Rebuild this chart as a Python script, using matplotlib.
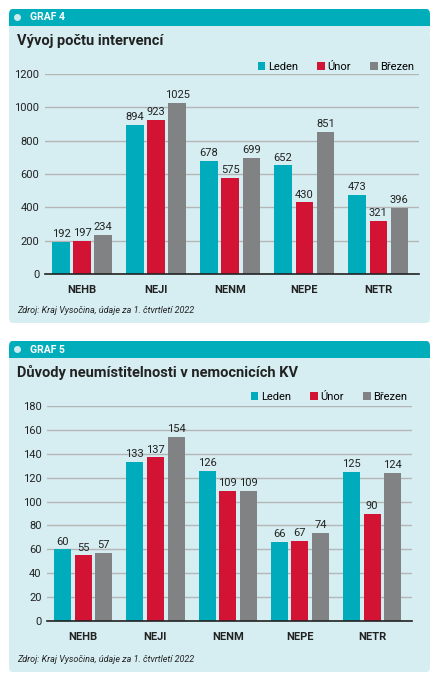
import matplotlib.pyplot as plt
from matplotlib.patches import FancyBboxPatch, Rectangle, Ellipse
import numpy as np

plt.rcParams['font.family'] = ['Roboto', 'DejaVu Sans']

categories = ["NEHB", "NEJI", "NENM", "NEPE", "NETR"]
months = ["Leden", "Únor", "Březen"]

# GRAF 4
interv_leden = [192, 894, 678, 652, 473]
interv_unor = [197, 923, 575, 430, 321]
interv_brezen = [234, 1025, 699, 851, 396]

# GRAF 5
neum_leden = [60, 133, 126, 66, 125]
neum_unor = [55, 137, 109, 67, 90]
neum_brezen = [57, 154, 109, 74, 124]

TEAL = "#00abbb"
RED = "#d21334"
GREY = "#818284"
BG = "#d6eef2"
HEAD = "#00adbb"
colors = [TEAL, RED, GREY]

W, H = 443, 689
fig = plt.figure(figsize=(W / 100, H / 100), dpi=100)
fig.patch.set_facecolor("white")


def fx(px):
    return px / W


def fy(py):
    return 1 - py / H


def panel(top, head_bottom, bottom, label, title):
    # body
    body = FancyBboxPatch((fx(9), fy(bottom)), fx(430) - fx(9), fy(head_bottom + 4) - fy(bottom),
                          boxstyle="round,pad=0,rounding_size=0.008", transform=fig.transFigure,
                          facecolor=BG, edgecolor="none", zorder=-3)
    fig.patches.append(body)
    fig.patches.append(Rectangle((fx(9), fy(head_bottom + 6)), fx(430) - fx(9), fy(head_bottom) - fy(head_bottom + 6),
                                 transform=fig.transFigure, facecolor=BG, edgecolor="none", zorder=-3))
    head = FancyBboxPatch((fx(9), fy(head_bottom)), fx(430) - fx(9), fy(top) - fy(head_bottom),
                          boxstyle="round,pad=0,rounding_size=0.008", transform=fig.transFigure,
                          facecolor=HEAD, edgecolor="none", zorder=-2)
    fig.patches.append(head)
    fig.patches.append(Rectangle((fx(9), fy(head_bottom)), fx(430) - fx(9), fy(head_bottom - 5) - fy(head_bottom),
                                 transform=fig.transFigure, facecolor=HEAD, edgecolor="none", zorder=-2))
    cy = (top + head_bottom) / 2
    fig.patches.append(Ellipse((fx(17.5), fy(cy)), 7 / W, 7 / H, transform=fig.transFigure,
                               facecolor="#cfeaee", edgecolor="none", zorder=-1))
    fig.text(fx(30), fy(cy), label, color="white", fontsize=7.5, fontweight="bold",
             va="center", ha="left")
    fig.text(fx(17), fy(head_bottom + 15), title, color="#222222", fontsize=10.5,
             fontweight="bold", va="center", ha="left")


def bars(ax_rect, series, ymax, ystep, legend_x, legend_y, source_y):
    left, right, ytop, ybot = ax_rect
    ax = fig.add_axes([fx(left), fy(ybot), fx(right) - fx(left), fy(ytop) - fy(ybot)])
    ax.set_zorder(5)
    ax.set_facecolor("none")
    x = np.arange(len(categories))
    bw = 0.235
    off = 0.285
    for i, (vals, c, m) in enumerate(zip(series, colors, months)):
        b = ax.bar(x + (i - 1) * off, vals, width=bw, color=c, label=m, zorder=3)
        ax.bar_label(b, padding=2, fontsize=8, color="#222222")
    ax.set_xlim(-0.5, 4.55)
    ax.set_ylim(0, ymax)
    ax.set_yticks(np.arange(0, ymax + 1, ystep))
    ax.yaxis.grid(True, color="#b5b5b5", linewidth=1, zorder=0)
    ax.set_axisbelow(True)
    for s in ["top", "right", "left"]:
        ax.spines[s].set_visible(False)
    ax.spines["bottom"].set_color("#222222")
    ax.spines["bottom"].set_linewidth(1.2)
    ax.spines["bottom"].set_zorder(4)
    ax.set_xticks(x)
    ax.set_xticklabels(categories, fontweight="bold", fontsize=8, color="#222222")
    ax.tick_params(axis="x", length=0, pad=8)
    ax.tick_params(axis="y", length=0, pad=4, labelsize=8, labelcolor="#222222")
    ax.legend(loc="center right", bbox_to_anchor=(fx(legend_x), fy(legend_y)),
              bbox_transform=fig.transFigure, ncol=3, frameon=False,
              fontsize=8, handlelength=0.7, handleheight=0.7, handletextpad=0.25,
              columnspacing=1.7, borderaxespad=0)
    fig.text(fx(17), fy(source_y), "Zdroj: Kraj Vysočina, údaje za 1. čtvrtletí 2022",
             fontsize=6.5, style="italic", color="#222222", va="center", ha="left")
    return ax


panel(9, 26, 323, "GRAF 4", "Vývoj počtu intervencí")
bars((45, 419, 74, 274), [interv_leden, interv_unor, interv_brezen], 1200, 200, 419, 67, 311)

panel(341, 358, 672, "GRAF 5", "Důvody neumístitelnosti v nemocnicích KV")
bars((47, 412, 406, 621), [neum_leden, neum_unor, neum_brezen], 180, 20, 412, 397, 660)

fig.savefig("out.png", dpi=100, facecolor="white")
